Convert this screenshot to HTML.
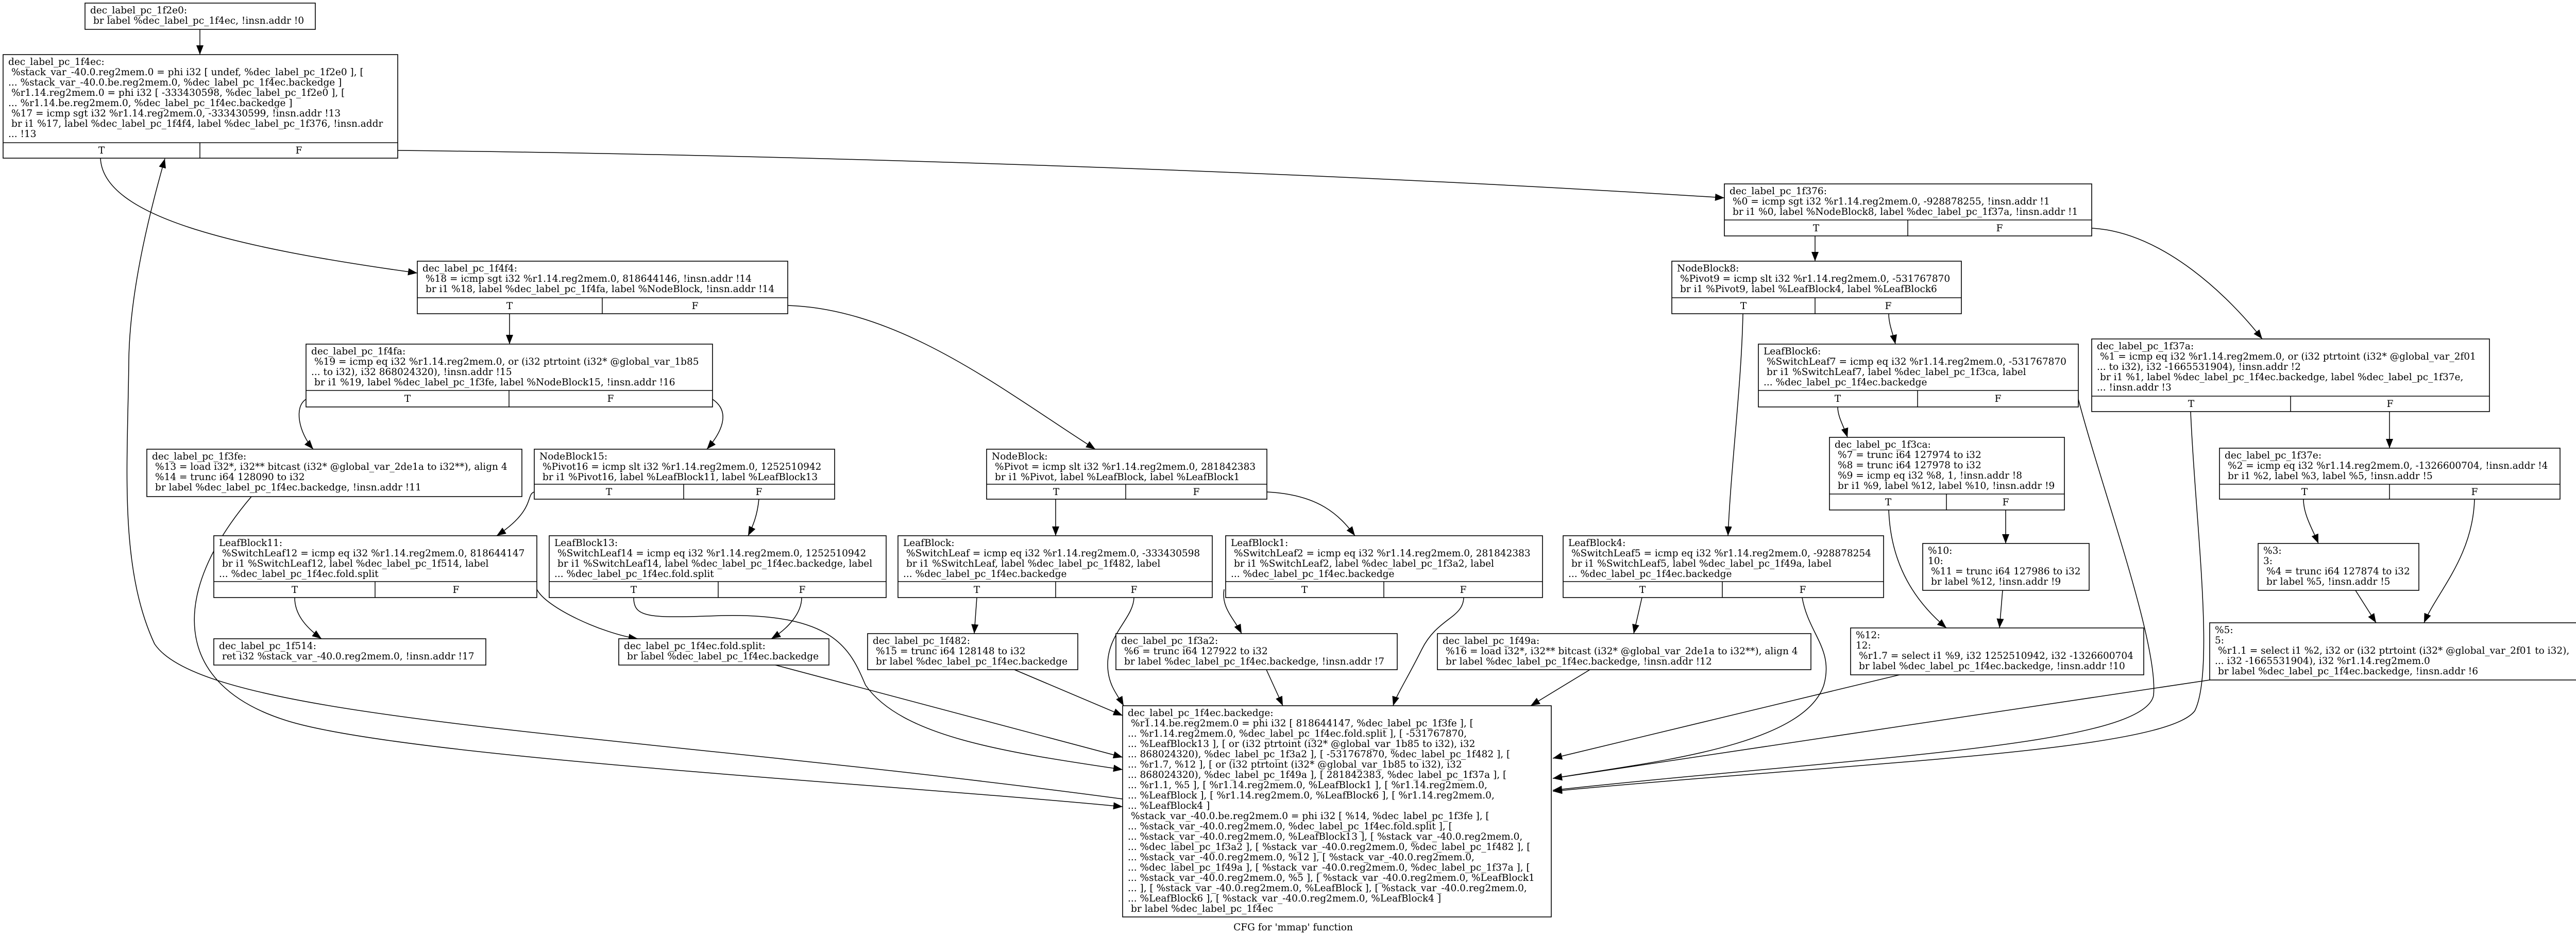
<!DOCTYPE html>
<html><head><meta charset="utf-8"><style>
html,body{margin:0;padding:0;background:#fff}
svg{display:block}
text{font-family:"DejaVu Serif","Liberation Serif",serif;font-size:18.5px;fill:#000;white-space:pre}
.b{fill:#fff;stroke:#000;stroke-width:1.6}
.e{fill:none;stroke:#000;stroke-width:1.5}
.l{stroke:#000;stroke-width:1.5}
.c{text-anchor:middle}
</style></head><body>
<svg width="5021" height="1817" viewBox="0 0 5021 1817" xmlns="http://www.w3.org/2000/svg">
<defs><marker id="a" markerUnits="userSpaceOnUse" markerWidth="20" markerHeight="14" refX="18" refY="7" orient="auto"><path d="M0,0 L18,7 L0,14 z" fill="#000"/></marker></defs>
<rect width="5021" height="1817" fill="#fff"/>

<!-- edges -->
<path class="e" marker-end="url(#a)" d="M388,57 L388,106"/>
<path class="e" marker-end="url(#a)" d="M195,307 C200,420 450,480 810,530"/>
<path class="e" marker-end="url(#a)" d="M772,292 C1500,300 2500,330 3347,384"/>
<path class="e" marker-end="url(#a)" d="M989,609 L989,668"/>
<path class="e" marker-end="url(#a)" d="M1529,593 C1750,600 1950,760 2126,872"/>
<path class="e" marker-end="url(#a)" d="M594,775 C570,790 580,840 608,872"/>
<path class="e" marker-end="url(#a)" d="M1383,775 C1420,800 1400,840 1372,872"/>
<path class="e" marker-end="url(#a)" d="M488,964 C330,1150 330,1330 560,1400 S1700,1520 2179,1566"/>
<path class="e" marker-end="url(#a)" d="M2179,1551 C1200,1420 400,1400 300,1250 C230,1100 248,900 250,700 C252,550 300,380 320,308"/>
<path class="e" marker-end="url(#a)" d="M1037,955 C1020,960 1040,990 964,1040"/>
<path class="e" marker-end="url(#a)" d="M1473,969 C1470,1000 1462,1020 1452,1040"/>
<path class="e" marker-end="url(#a)" d="M2049,969 L2049,1040"/>
<path class="e" marker-end="url(#a)" d="M2459,955 C2560,960 2600,1000 2630,1040"/>
<path class="e" marker-end="url(#a)" d="M572,1160 C572,1190 590,1215 624,1240"/>
<path class="e" marker-end="url(#a)" d="M1042,1144 C1060,1180 1170,1230 1238,1240"/>
<path class="e" d="M1230,1160 C1230,1200 1260,1200 1400,1195 C1620,1190 1650,1260 1680,1330 C1750,1430 1950,1460 2179,1494" marker-end="url(#a)"/>
<path class="e" marker-end="url(#a)" d="M1556,1160 C1556,1190 1530,1220 1497,1240"/>
<path class="e" marker-end="url(#a)" d="M1505,1291 L2179,1470"/>
<path class="e" marker-end="url(#a)" d="M1896,1160 L1891,1230"/>
<path class="e" marker-end="url(#a)" d="M2201,1160 C2200,1200 2150,1230 2150,1290 C2150,1330 2170,1350 2181,1370"/>
<path class="e" marker-end="url(#a)" d="M1969,1300 L2179,1389"/>
<path class="e" marker-end="url(#a)" d="M2376,1144 C2370,1180 2395,1200 2410,1230"/>
<path class="e" marker-end="url(#a)" d="M2458,1300 L2490,1370"/>
<path class="e" marker-end="url(#a)" d="M2841,1160 C2840,1200 2790,1200 2760,1260 C2730,1320 2710,1350 2704,1370"/>
<path class="e" marker-end="url(#a)" d="M3187,1160 L3171,1230"/>
<path class="e" marker-end="url(#a)" d="M3498,1160 C3510,1230 3560,1260 3540,1330 C3500,1450 3200,1480 3014,1511"/>
<path class="e" marker-end="url(#a)" d="M3086,1300 L2971,1370"/>
<path class="e" marker-end="url(#a)" d="M3687,1310 L3014,1472"/>
<path class="e" marker-end="url(#a)" d="M4289,1320 L3014,1511"/>
<path class="e" marker-end="url(#a)" d="M4034,775 C4080,950 4190,1250 4180,1350 C4160,1450 3600,1470 3014,1534"/>
<path class="e" marker-end="url(#a)" d="M4252,799 C4260,1000 4300,1300 4260,1380 C4200,1460 3600,1480 3014,1536"/>
<path class="e" marker-end="url(#a)" d="M3523,458 L3523,507"/>
<path class="e" marker-end="url(#a)" d="M4060,443 C4200,450 4330,580 4391,658"/>
<path class="e" marker-end="url(#a)" d="M3383,609 C3380,750 3360,900 3354,1040"/>
<path class="e" marker-end="url(#a)" d="M3666,609 C3666,630 3675,650 3679,668"/>
<path class="e" marker-end="url(#a)" d="M3567,790 C3567,810 3580,830 3586,849"/>
<path class="e" marker-end="url(#a)" d="M3666,990 C3670,1100 3720,1170 3778,1219"/>
<path class="e" marker-end="url(#a)" d="M3893,990 L3893,1055"/>
<path class="e" marker-end="url(#a)" d="M3887,1146 L3881,1219"/>
<path class="e" marker-end="url(#a)" d="M4471,969 C4471,1000 4490,1030 4500,1055"/>
<path class="e" marker-end="url(#a)" d="M4803,969 C4800,1080 4730,1150 4705,1209"/>
<path class="e" marker-end="url(#a)" d="M4572,1146 L4612,1209"/>
<path class="e" marker-end="url(#a)" d="M4638,799 L4638,870"/>

<!-- 1f2e0 -->
<rect class="b" x="165" y="6" width="447" height="51"/>
<text x="175" y="26">dec_label_pc_1f2e0:</text>
<text x="181" y="46">br label %dec_label_pc_1f4ec, !insn.addr !0</text>

<!-- 1f4ec -->
<rect class="b" x="6" y="106" width="766" height="201"/>
<line class="l" x1="6" y1="277" x2="772" y2="277"/><line class="l" x1="388" y1="277" x2="388" y2="307"/>
<text x="16" y="126">dec_label_pc_1f4ec:</text>
<text x="22" y="146">%stack_var_-40.0.reg2mem.0 = phi i32 [ undef, %dec_label_pc_1f2e0 ], [</text>
<text x="16" y="166">... %stack_var_-40.0.be.reg2mem.0, %dec_label_pc_1f4ec.backedge ]</text>
<text x="22" y="186">%r1.14.reg2mem.0 = phi i32 [ -333430598, %dec_label_pc_1f2e0 ], [</text>
<text x="16" y="206">... %r1.14.be.reg2mem.0, %dec_label_pc_1f4ec.backedge ]</text>
<text x="22" y="226">%17 = icmp sgt i32 %r1.14.reg2mem.0, -333430599, !insn.addr !13</text>
<text x="22" y="246">br i1 %17, label %dec_label_pc_1f4f4, label %dec_label_pc_1f376, !insn.addr</text>
<text x="16" y="266">... !13</text>
<text class="c" x="197" y="298">T</text><text class="c" x="580" y="298">F</text>

<!-- 1f4f4 -->
<rect class="b" x="810" y="507" width="719" height="102"/>
<line class="l" x1="810" y1="578" x2="1529" y2="578"/><line class="l" x1="1169" y1="578" x2="1169" y2="609"/>
<text x="820" y="527">dec_label_pc_1f4f4:</text>
<text x="826" y="547">%18 = icmp sgt i32 %r1.14.reg2mem.0, 818644146, !insn.addr !14</text>
<text x="826" y="567">br i1 %18, label %dec_label_pc_1f4fa, label %NodeBlock, !insn.addr !14</text>
<text class="c" x="989" y="600">T</text><text class="c" x="1349" y="600">F</text>

<!-- 1f376 -->
<rect class="b" x="3347" y="357" width="713" height="101"/>
<line class="l" x1="3347" y1="427" x2="4060" y2="427"/><line class="l" x1="3703" y1="427" x2="3703" y2="458"/>
<text x="3357" y="377">dec_label_pc_1f376:</text>
<text x="3363" y="397">%0 = icmp sgt i32 %r1.14.reg2mem.0, -928878255, !insn.addr !1</text>
<text x="3363" y="417">br i1 %0, label %NodeBlock8, label %dec_label_pc_1f37a, !insn.addr !1</text>
<text class="c" x="3525" y="449">T</text><text class="c" x="3881" y="449">F</text>

<!-- NodeBlock8 -->
<rect class="b" x="3245" y="507" width="562" height="102"/>
<line class="l" x1="3245" y1="578" x2="3807" y2="578"/><line class="l" x1="3523" y1="578" x2="3523" y2="609"/>
<text x="3255" y="527">NodeBlock8:</text>
<text x="3261" y="547">%Pivot9 = icmp slt i32 %r1.14.reg2mem.0, -531767870</text>
<text x="3261" y="567">br i1 %Pivot9, label %LeafBlock4, label %LeafBlock6</text>
<text class="c" x="3384" y="600">T</text><text class="c" x="3665" y="600">F</text>

<!-- 1f4fa -->
<rect class="b" x="594" y="668" width="789" height="122"/>
<line class="l" x1="594" y1="758" x2="1383" y2="758"/><line class="l" x1="988" y1="758" x2="988" y2="790"/>
<text x="604" y="688">dec_label_pc_1f4fa:</text>
<text x="610" y="708">%19 = icmp eq i32 %r1.14.reg2mem.0, or (i32 ptrtoint (i32* @global_var_1b85</text>
<text x="604" y="728">... to i32), i32 868024320), !insn.addr !15</text>
<text x="610" y="748">br i1 %19, label %dec_label_pc_1f3fe, label %NodeBlock15, !insn.addr !16</text>
<text class="c" x="791" y="780">T</text><text class="c" x="1185" y="780">F</text>

<!-- LeafBlock6 -->
<rect class="b" x="3413" y="668" width="621" height="122"/>
<line class="l" x1="3413" y1="758" x2="4034" y2="758"/><line class="l" x1="3722" y1="758" x2="3722" y2="790"/>
<text x="3423" y="688">LeafBlock6:</text>
<text x="3429" y="708">%SwitchLeaf7 = icmp eq i32 %r1.14.reg2mem.0, -531767870</text>
<text x="3429" y="728">br i1 %SwitchLeaf7, label %dec_label_pc_1f3ca, label</text>
<text x="3423" y="748">... %dec_label_pc_1f4ec.backedge</text>
<text class="c" x="3567" y="780">T</text><text class="c" x="3878" y="780">F</text>

<!-- 1f37a -->
<rect class="b" x="4060" y="658" width="772" height="141"/>
<line class="l" x1="4060" y1="769" x2="4832" y2="769"/><line class="l" x1="4446" y1="769" x2="4446" y2="799"/>
<text x="4070" y="678">dec_label_pc_1f37a:</text>
<text x="4076" y="698">%1 = icmp eq i32 %r1.14.reg2mem.0, or (i32 ptrtoint (i32* @global_var_2f01</text>
<text x="4070" y="718">... to i32), i32 -1665531904), !insn.addr !2</text>
<text x="4076" y="738">br i1 %1, label %dec_label_pc_1f4ec.backedge, label %dec_label_pc_1f37e,</text>
<text x="4070" y="758">... !insn.addr !3</text>
<text class="c" x="4253" y="790">T</text><text class="c" x="4639" y="790">F</text>

<!-- 1f3ca -->
<rect class="b" x="3551" y="849" width="456" height="141"/>
<line class="l" x1="3551" y1="959" x2="4007" y2="959"/><line class="l" x1="3778" y1="959" x2="3778" y2="990"/>
<text x="3561" y="869">dec_label_pc_1f3ca:</text>
<text x="3567" y="889">%7 = trunc i64 127974 to i32</text>
<text x="3567" y="909">%8 = trunc i64 127978 to i32</text>
<text x="3567" y="929">%9 = icmp eq i32 %8, 1, !insn.addr !8</text>
<text x="3567" y="949">br i1 %9, label %12, label %10, !insn.addr !9</text>
<text class="c" x="3665" y="981">T</text><text class="c" x="3893" y="981">F</text>

<!-- 1f37e -->
<rect class="b" x="4308" y="870" width="661" height="99"/>
<line class="l" x1="4308" y1="940" x2="4969" y2="940"/><line class="l" x1="4638" y1="940" x2="4638" y2="969"/>
<text x="4318" y="890">dec_label_pc_1f37e:</text>
<text x="4324" y="910">%2 = icmp eq i32 %r1.14.reg2mem.0, -1326600704, !insn.addr !4</text>
<text x="4324" y="930">br i1 %2, label %3, label %5, !insn.addr !5</text>
<text class="c" x="4473" y="961">T</text><text class="c" x="4803" y="961">F</text>

<!-- 1f3fe -->
<rect class="b" x="285" y="872" width="728" height="92"/>
<text x="295" y="892">dec_label_pc_1f3fe:</text>
<text x="301" y="912">%13 = load i32*, i32** bitcast (i32* @global_var_2de1a to i32**), align 4</text>
<text x="301" y="932">%14 = trunc i64 128090 to i32</text>
<text x="301" y="952">br label %dec_label_pc_1f4ec.backedge, !insn.addr !11</text>

<!-- NodeBlock15 -->
<rect class="b" x="1037" y="872" width="583" height="97"/>
<line class="l" x1="1037" y1="940" x2="1620" y2="940"/><line class="l" x1="1327" y1="940" x2="1327" y2="969"/>
<text x="1047" y="892">NodeBlock15:</text>
<text x="1053" y="912">%Pivot16 = icmp slt i32 %r1.14.reg2mem.0, 1252510942</text>
<text x="1053" y="932">br i1 %Pivot16, label %LeafBlock11, label %LeafBlock13</text>
<text class="c" x="1182" y="961">T</text><text class="c" x="1473" y="961">F</text>

<!-- NodeBlock -->
<rect class="b" x="1915" y="872" width="544" height="97"/>
<line class="l" x1="1915" y1="940" x2="2459" y2="940"/><line class="l" x1="2185" y1="940" x2="2185" y2="969"/>
<text x="1925" y="892">NodeBlock:</text>
<text x="1931" y="912">%Pivot = icmp slt i32 %r1.14.reg2mem.0, 281842383</text>
<text x="1931" y="932">br i1 %Pivot, label %LeafBlock, label %LeafBlock1</text>
<text class="c" x="2050" y="961">T</text><text class="c" x="2322" y="961">F</text>

<!-- %3 -->
<rect class="b" x="4383" y="1055" width="312" height="91"/>
<text x="4393" y="1075">%3:</text>
<text x="4393" y="1095">3:</text>
<text x="4399" y="1115">%4 = trunc i64 127874 to i32</text>
<text x="4399" y="1135">br label %5, !insn.addr !5</text>

<!-- %10 -->
<rect class="b" x="3732" y="1055" width="323" height="91"/>
<text x="3742" y="1075">%10:</text>
<text x="3742" y="1095">10:</text>
<text x="3748" y="1115">%11 = trunc i64 127986 to i32</text>
<text x="3748" y="1135">br label %12, !insn.addr !9</text>

<!-- LeafBlock11 -->
<rect class="b" x="415" y="1040" width="627" height="120"/>
<line class="l" x1="415" y1="1129" x2="1042" y2="1129"/><line class="l" x1="728" y1="1129" x2="728" y2="1160"/>
<text x="425" y="1060">LeafBlock11:</text>
<text x="431" y="1080">%SwitchLeaf12 = icmp eq i32 %r1.14.reg2mem.0, 818644147</text>
<text x="431" y="1100">br i1 %SwitchLeaf12, label %dec_label_pc_1f514, label</text>
<text x="425" y="1120">... %dec_label_pc_1f4ec.fold.split</text>
<text class="c" x="572" y="1151">T</text><text class="c" x="885" y="1151">F</text>

<!-- LeafBlock13 -->
<rect class="b" x="1066" y="1040" width="654" height="120"/>
<line class="l" x1="1066" y1="1129" x2="1720" y2="1129"/><line class="l" x1="1394" y1="1129" x2="1394" y2="1160"/>
<text x="1076" y="1060">LeafBlock13:</text>
<text x="1082" y="1080">%SwitchLeaf14 = icmp eq i32 %r1.14.reg2mem.0, 1252510942</text>
<text x="1082" y="1100">br i1 %SwitchLeaf14, label %dec_label_pc_1f4ec.backedge, label</text>
<text x="1076" y="1120">... %dec_label_pc_1f4ec.fold.split</text>
<text class="c" x="1230" y="1151">T</text><text class="c" x="1557" y="1151">F</text>

<!-- LeafBlock -->
<rect class="b" x="1743" y="1040" width="610" height="120"/>
<line class="l" x1="1743" y1="1129" x2="2353" y2="1129"/><line class="l" x1="2049" y1="1129" x2="2049" y2="1160"/>
<text x="1753" y="1060">LeafBlock:</text>
<text x="1759" y="1080">%SwitchLeaf = icmp eq i32 %r1.14.reg2mem.0, -333430598</text>
<text x="1759" y="1100">br i1 %SwitchLeaf, label %dec_label_pc_1f482, label</text>
<text x="1753" y="1120">... %dec_label_pc_1f4ec.backedge</text>
<text class="c" x="1896" y="1151">T</text><text class="c" x="2201" y="1151">F</text>

<!-- LeafBlock1 -->
<rect class="b" x="2379" y="1040" width="615" height="120"/>
<line class="l" x1="2379" y1="1129" x2="2994" y2="1129"/><line class="l" x1="2686" y1="1129" x2="2686" y2="1160"/>
<text x="2389" y="1060">LeafBlock1:</text>
<text x="2395" y="1080">%SwitchLeaf2 = icmp eq i32 %r1.14.reg2mem.0, 281842383</text>
<text x="2395" y="1100">br i1 %SwitchLeaf2, label %dec_label_pc_1f3a2, label</text>
<text x="2389" y="1120">... %dec_label_pc_1f4ec.backedge</text>
<text class="c" x="2532" y="1151">T</text><text class="c" x="2840" y="1151">F</text>

<!-- LeafBlock4 -->
<rect class="b" x="3034" y="1040" width="622" height="120"/>
<line class="l" x1="3034" y1="1129" x2="3656" y2="1129"/><line class="l" x1="3343" y1="1129" x2="3343" y2="1160"/>
<text x="3044" y="1060">LeafBlock4:</text>
<text x="3050" y="1080">%SwitchLeaf5 = icmp eq i32 %r1.14.reg2mem.0, -928878254</text>
<text x="3050" y="1100">br i1 %SwitchLeaf5, label %dec_label_pc_1f49a, label</text>
<text x="3044" y="1120">... %dec_label_pc_1f4ec.backedge</text>
<text class="c" x="3188" y="1151">T</text><text class="c" x="3499" y="1151">F</text>

<!-- 1f514 -->
<rect class="b" x="415" y="1240" width="528" height="51"/>
<text x="425" y="1260">dec_label_pc_1f514:</text>
<text x="431" y="1280">ret i32 %stack_var_-40.0.reg2mem.0, !insn.addr !17</text>

<!-- fold.split -->
<rect class="b" x="1201" y="1240" width="408" height="51"/>
<text x="1211" y="1260">dec_label_pc_1f4ec.fold.split:</text>
<text x="1217" y="1280">br label %dec_label_pc_1f4ec.backedge</text>

<!-- 1f482 -->
<rect class="b" x="1684" y="1230" width="408" height="70"/>
<text x="1694" y="1250">dec_label_pc_1f482:</text>
<text x="1700" y="1270">%15 = trunc i64 128148 to i32</text>
<text x="1700" y="1290">br label %dec_label_pc_1f4ec.backedge</text>

<!-- 1f3a2 -->
<rect class="b" x="2166" y="1230" width="546" height="70"/>
<text x="2176" y="1250">dec_label_pc_1f3a2:</text>
<text x="2182" y="1270">%6 = trunc i64 127922 to i32</text>
<text x="2182" y="1290">br label %dec_label_pc_1f4ec.backedge, !insn.addr !7</text>

<!-- 1f49a -->
<rect class="b" x="2790" y="1230" width="725" height="70"/>
<text x="2800" y="1250">dec_label_pc_1f49a:</text>
<text x="2806" y="1270">%16 = load i32*, i32** bitcast (i32* @global_var_2de1a to i32**), align 4</text>
<text x="2806" y="1290">br label %dec_label_pc_1f4ec.backedge, !insn.addr !12</text>

<!-- %12 -->
<rect class="b" x="3592" y="1219" width="569" height="91"/>
<text x="3602" y="1239">%12:</text>
<text x="3602" y="1259">12:</text>
<text x="3608" y="1279">%r1.7 = select i1 %9, i32 1252510942, i32 -1326600704</text>
<text x="3608" y="1299">br label %dec_label_pc_1f4ec.backedge, !insn.addr !10</text>

<!-- %5 -->
<rect class="b" x="4289" y="1209" width="724" height="111"/>
<text x="4299" y="1229">%5:</text>
<text x="4299" y="1249">5:</text>
<text x="4305" y="1269">%r1.1 = select i1 %2, i32 or (i32 ptrtoint (i32* @global_var_2f01 to i32),</text>
<text x="4299" y="1289">... i32 -1665531904), i32 %r1.14.reg2mem.0</text>
<text x="4305" y="1309">br label %dec_label_pc_1f4ec.backedge, !insn.addr !6</text>

<!-- backedge -->
<rect class="b" x="2179" y="1370" width="832" height="410"/>
<text x="2189" y="1390">dec_label_pc_1f4ec.backedge:</text>
<text x="2195" y="1410">%r1.14.be.reg2mem.0 = phi i32 [ 818644147, %dec_label_pc_1f3fe ], [</text>
<text x="2189" y="1430">... %r1.14.reg2mem.0, %dec_label_pc_1f4ec.fold.split ], [ -531767870,</text>
<text x="2189" y="1450">... %LeafBlock13 ], [ or (i32 ptrtoint (i32* @global_var_1b85 to i32), i32</text>
<text x="2189" y="1470">... 868024320), %dec_label_pc_1f3a2 ], [ -531767870, %dec_label_pc_1f482 ], [</text>
<text x="2189" y="1490">... %r1.7, %12 ], [ or (i32 ptrtoint (i32* @global_var_1b85 to i32), i32</text>
<text x="2189" y="1510">... 868024320), %dec_label_pc_1f49a ], [ 281842383, %dec_label_pc_1f37a ], [</text>
<text x="2189" y="1530">... %r1.1, %5 ], [ %r1.14.reg2mem.0, %LeafBlock1 ], [ %r1.14.reg2mem.0,</text>
<text x="2189" y="1550">... %LeafBlock ], [ %r1.14.reg2mem.0, %LeafBlock6 ], [ %r1.14.reg2mem.0,</text>
<text x="2189" y="1570">... %LeafBlock4 ]</text>
<text x="2195" y="1590">%stack_var_-40.0.be.reg2mem.0 = phi i32 [ %14, %dec_label_pc_1f3fe ], [</text>
<text x="2189" y="1610">... %stack_var_-40.0.reg2mem.0, %dec_label_pc_1f4ec.fold.split ], [</text>
<text x="2189" y="1630">... %stack_var_-40.0.reg2mem.0, %LeafBlock13 ], [ %stack_var_-40.0.reg2mem.0,</text>
<text x="2189" y="1650">... %dec_label_pc_1f3a2 ], [ %stack_var_-40.0.reg2mem.0, %dec_label_pc_1f482 ], [</text>
<text x="2189" y="1670">... %stack_var_-40.0.reg2mem.0, %12 ], [ %stack_var_-40.0.reg2mem.0,</text>
<text x="2189" y="1690">... %dec_label_pc_1f49a ], [ %stack_var_-40.0.reg2mem.0, %dec_label_pc_1f37a ], [</text>
<text x="2189" y="1710">... %stack_var_-40.0.reg2mem.0, %5 ], [ %stack_var_-40.0.reg2mem.0, %LeafBlock1</text>
<text x="2189" y="1730">... ], [ %stack_var_-40.0.reg2mem.0, %LeafBlock ], [ %stack_var_-40.0.reg2mem.0,</text>
<text x="2189" y="1750">... %LeafBlock6 ], [ %stack_var_-40.0.reg2mem.0, %LeafBlock4 ]</text>
<text x="2195" y="1770">br label %dec_label_pc_1f4ec</text>

<text class="c" x="2510" y="1806">CFG for 'mmap' function</text>
</svg>
</body></html>
